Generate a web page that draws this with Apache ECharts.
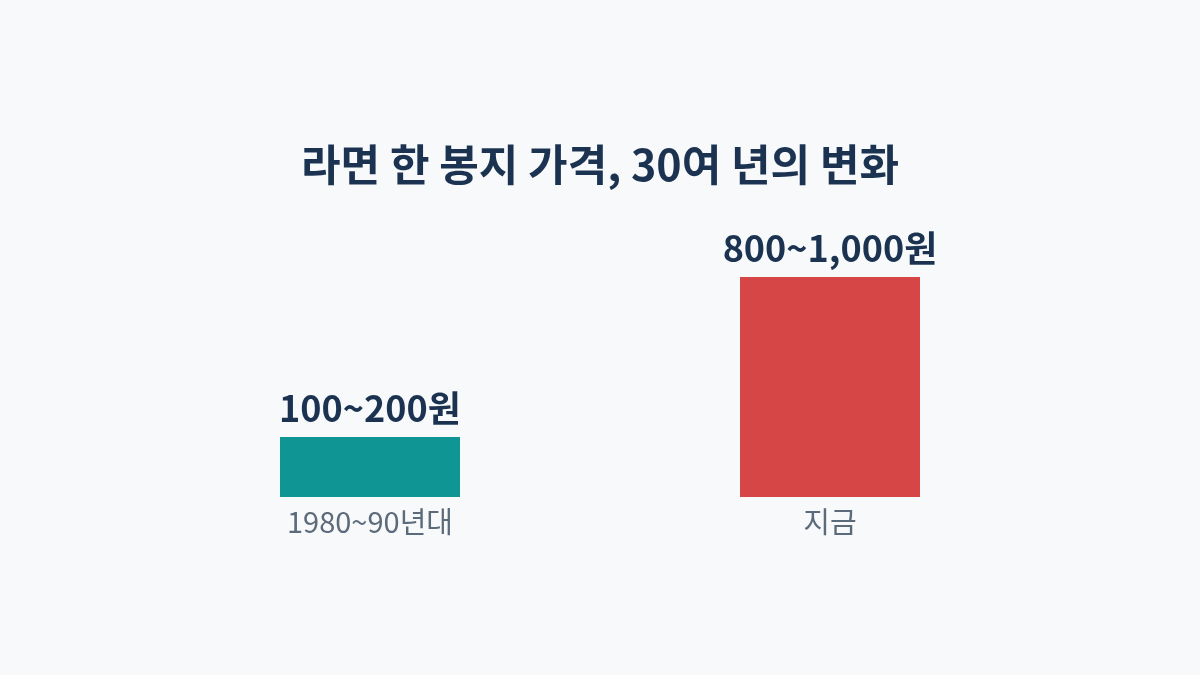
<!DOCTYPE html>
<html>
<head>
<meta charset="utf-8">
<script src="https://cdn.jsdelivr.net/npm/echarts@6/dist/echarts.min.js"></script>
<style>
html,body{margin:0;padding:0;background:#f7f9fb;}
#c{width:1200px;height:675px;}
</style>
</head>
<body>
<div id="c"></div>
<script>
const categories = ['1980~90년대', '지금'];
const values = [150, 550];
const priceLabels = ['100~200원', '800~1,000원'];
const barColors = ['#0f9594', '#d64646'];

const chart = echarts.init(document.getElementById('c'));
chart.setOption({
  backgroundColor: '#f7f9fb',
  title: {
    text: '라면 한 봉지 가격, 30여 년의 변화',
    left: 'center',
    top: 138,
    textStyle: {
      fontFamily: 'Noto Sans CJK KR',
      fontSize: 43,
      fontWeight: 'bold',
      color: '#1b3350'
    }
  },
  grid: { left: 140, right: 140, top: 277, bottom: 178 },
  xAxis: {
    type: 'category',
    data: categories,
    axisLine: { show: false },
    axisTick: { show: false },
    axisLabel: {
      fontFamily: 'Noto Sans CJK KR',
      fontSize: 29,
      color: '#5c6b7b',
      margin: 10
    }
  },
  yAxis: {
    type: 'value',
    min: 0,
    max: 550,
    show: false,
    splitLine: { show: false }
  },
  series: [{
    type: 'bar',
    barWidth: 180,
    data: values.map((v, i) => ({ value: v, itemStyle: { color: barColors[i] } })),
    label: {
      show: true,
      position: 'top',
      distance: 11,
      formatter: p => priceLabels[p.dataIndex],
      fontFamily: 'Noto Sans CJK KR',
      fontSize: 36,
      fontWeight: 'bold',
      color: '#1b3350'
    }
  }]
});
</script>
</body>
</html>
